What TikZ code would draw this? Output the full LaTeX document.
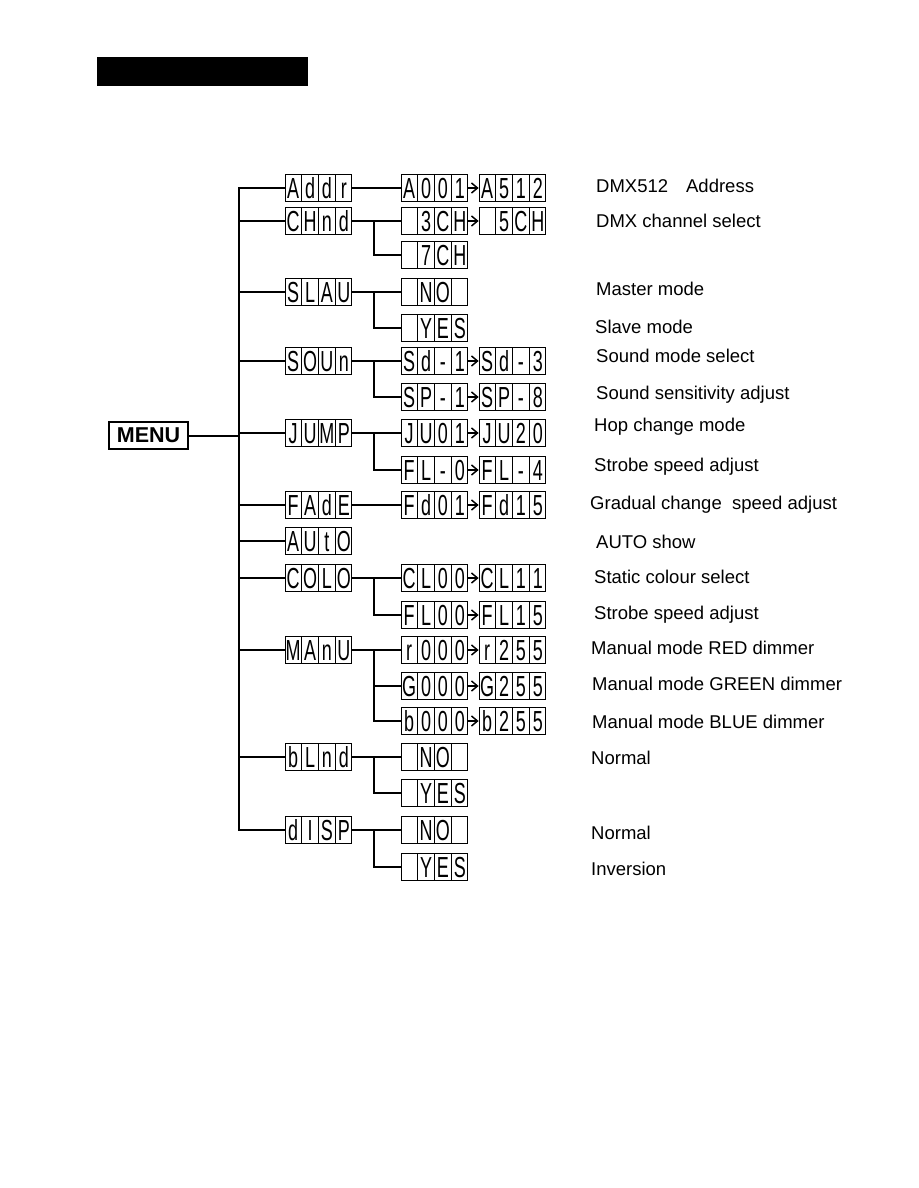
\documentclass[tikz,border=0pt]{standalone}
\usepackage{fontspec}
\usepackage{graphicx}
\setmainfont{Liberation Sans}
\usetikzlibrary{arrows.meta}

% one cell of a 4-digit display, and the whole display
\newcommand{\lcdc}[1]{\makebox[16pt]{\rule[-3pt]{0pt}{27pt}\scalebox{0.62}[1]{#1}}}
\newcommand{\lcd}[4]{\lcdc{#1}\vrule width 0.9pt\lcdc{#2}\vrule width 0.9pt\lcdc{#3}\vrule width 0.9pt\lcdc{#4}}

\tikzset{
  lcd/.style={draw, line width=1pt, inner sep=0pt, font=\fontsize{29}{29}\selectfont},
  conn/.style={line width=2pt},
  nextval/.style={line width=1.5pt, -{Straight Barb[length=6pt,width=10pt]}},
  desc/.style={anchor=west, inner sep=0pt, font=\fontsize{18.5}{18.5}\selectfont},
}

\begin{document}
\begin{tikzpicture}[x=1pt,y=-1pt]
    \useasboundingbox (0,0) rectangle (918,1188);

    % Draw the black title bar
    \fill (97,57) rectangle (308,86);

    % MENU box and the points where the lines branch
    \node[draw, line width=2.5pt, minimum width=79pt, minimum height=27pt, inner sep=0pt,
          font=\bfseries\fontsize{21.5}{21.5}\selectfont] (menu) at (148.5,435.5) {MENU};
    \coordinate (trunk) at (239,435.5);
    \coordinate (branch) at (374,435.5);

    % First level of the menu
    \node[lcd] (addr) at (318.5,188) {\lcd{A}{d}{d}{r}};
    \node[lcd] (chnd) at (318.5,221) {\lcd{C}{H}{n}{d}};
    \node[lcd] (slau) at (318.5,292) {\lcd{S}{L}{A}{U}};
    \node[lcd] (soun) at (318.5,361) {\lcd{S}{O}{U}{n}};
    \node[lcd] (jump) at (318.5,433) {\lcd{J}{U}{M}{P}};
    \node[lcd] (fade) at (318.5,505) {\lcd{F}{A}{d}{E}};
    \node[lcd] (auto) at (318.5,541) {\lcd{A}{U}{t}{O}};
    \node[lcd] (colo) at (318.5,578) {\lcd{C}{O}{L}{O}};
    \node[lcd] (manu) at (318.5,650) {\lcd{M}{A}{n}{U}};
    \node[lcd] (blnd) at (318.5,757) {\lcd{b}{L}{n}{d}};
    \node[lcd] (disp) at (318.5,830) {\lcd{d}{I}{S}{P}};

    % Second level
    \node[lcd] (a001) at (434.5,188) {\lcd{A}{0}{0}{1}};
    \node[lcd] (ch3)  at (434.5,221) {\lcd{}{3}{C}{H}};
    \node[lcd] (ch7)  at (434.5,255) {\lcd{}{7}{C}{H}};
    \node[lcd] (no1)  at (434.5,292) {\lcd{}{N}{O}{}};
    \node[lcd] (yes1) at (434.5,328) {\lcd{}{Y}{E}{S}};
    \node[lcd] (sd1)  at (434.5,361) {\lcd{S}{d}{-}{1}};
    \node[lcd] (sp1)  at (434.5,397) {\lcd{S}{P}{-}{1}};
    \node[lcd] (ju01) at (434.5,433) {\lcd{J}{U}{0}{1}};
    \node[lcd] (fl0)  at (434.5,470) {\lcd{F}{L}{-}{0}};
    \node[lcd] (fd01) at (434.5,505) {\lcd{F}{d}{0}{1}};
    \node[lcd] (cl00) at (434.5,578) {\lcd{C}{L}{0}{0}};
    \node[lcd] (fl00) at (434.5,615) {\lcd{F}{L}{0}{0}};
    \node[lcd] (r000) at (434.5,650) {\lcd{r}{0}{0}{0}};
    \node[lcd] (g000) at (434.5,686) {\lcd{G}{0}{0}{0}};
    \node[lcd] (b000) at (434.5,721) {\lcd{b}{0}{0}{0}};
    \node[lcd] (no2)  at (434.5,757) {\lcd{}{N}{O}{}};
    \node[lcd] (yes2) at (434.5,793) {\lcd{}{Y}{E}{S}};
    \node[lcd] (no3)  at (434.5,830) {\lcd{}{N}{O}{}};
    \node[lcd] (yes3) at (434.5,867) {\lcd{}{Y}{E}{S}};

    % Last values of the ranges
    \node[lcd] (a512) at (512.5,188) {\lcd{A}{5}{1}{2}};
    \node[lcd] (ch5)  at (512.5,221) {\lcd{}{5}{C}{H}};
    \node[lcd] (sd3)  at (512.5,361) {\lcd{S}{d}{-}{3}};
    \node[lcd] (sp8)  at (512.5,397) {\lcd{S}{P}{-}{8}};
    \node[lcd] (ju20) at (512.5,433) {\lcd{J}{U}{2}{0}};
    \node[lcd] (fl4)  at (512.5,470) {\lcd{F}{L}{-}{4}};
    \node[lcd] (fd15) at (512.5,505) {\lcd{F}{d}{1}{5}};
    \node[lcd] (cl11) at (512.5,578) {\lcd{C}{L}{1}{1}};
    \node[lcd] (fl15) at (512.5,615) {\lcd{F}{L}{1}{5}};
    \node[lcd] (r255) at (512.5,650) {\lcd{r}{2}{5}{5}};
    \node[lcd] (g255) at (512.5,686) {\lcd{G}{2}{5}{5}};
    \node[lcd] (b255) at (512.5,721) {\lcd{b}{2}{5}{5}};

    % Lines from MENU to the first level
    \draw[conn] (menu.east) -- (trunk);
    \draw[conn] (addr.west) -| (trunk |- disp.west) -- (disp.west);
    \foreach \n in {chnd,slau,soun,jump,fade,auto,colo,manu,blnd}
        \draw[conn] (trunk |- \n.west) -- (\n.west);

    % Lines to the second level
    \draw[conn] (addr.east) -- (a001.west);
    \draw[conn] (fade.east) -- (fd01.west);
    \foreach \p/\a/\b in {chnd/ch3/ch7, slau/no1/yes1, soun/sd1/sp1, jump/ju01/fl0,
                          colo/cl00/fl00, manu/r000/b000, blnd/no2/yes2, disp/no3/yes3} {
        \draw[conn] (\p.east) -- (\a.west);
        \draw[conn] (branch |- \p.east) |- (\b.west);
    }
    \draw[conn] (branch |- g000.west) -- (g000.west);

    % Arrows from first to last value
    \foreach \a/\b in {a001/a512, ch3/ch5, sd1/sd3, sp1/sp8, ju01/ju20, fl0/fl4,
                       fd01/fd15, cl00/cl11, fl00/fl15, r000/r255, g000/g255, b000/b255}
        \draw[nextval] (\a.east) -- (\b.west);

    % Descriptions
    \node[desc] (t1)  at (596,186) {DMX512\hspace{18pt}Address};
    \node[desc] (t2)  at (596,221) {DMX channel select};
    \node[desc] (t3)  at (596,289) {Master mode};
    \node[desc] (t4)  at (595,327) {Slave mode};
    \node[desc] (t5)  at (596,356) {Sound mode select};
    \node[desc] (t6)  at (596,395) {Sound sensitivity adjust};
    \node[desc] (t7)  at (594,427) {Hop change mode};
    \node[desc] (t8)  at (594,467) {Strobe speed adjust};
    \node[desc] (t9)  at (590,505) {Gradual change\ \ speed adjust};
    \node[desc] (t10) at (596,542) {AUTO show};
    \node[desc] (t11) at (594,577) {Static colour select};
    \node[desc] (t12) at (594,615) {Strobe speed adjust};
    \node[desc] (t13) at (591,648) {Manual mode RED dimmer};
    \node[desc] (t14) at (592,684) {Manual mode GREEN dimmer};
    \node[desc] (t15) at (592,722) {Manual mode BLUE dimmer};
    \node[desc] (t16) at (591,758) {Normal};
    \node[desc] (t17) at (591,833) {Normal};
    \node[desc] (t18) at (591,869) {Inversion};
\end{tikzpicture}
\end{document}
